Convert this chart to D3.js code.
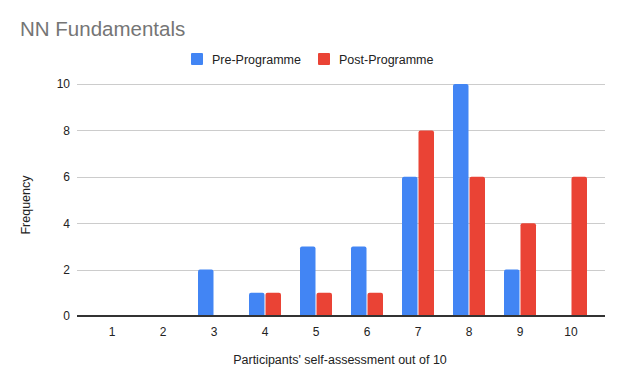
<!DOCTYPE html>
<html>
<head>
<meta charset="utf-8">
<script src="https://cdnjs.cloudflare.com/ajax/libs/d3/7.8.5/d3.min.js"></script>
<style>
  body { margin: 0; background: #fff; font-family: "Liberation Sans", Arial, sans-serif; }
  .title { font-size: 20.5px; fill: #757575; }
  .tick text { font-size: 12px; fill: #222; }
</style>
</head>
<body>
<div id="chart"></div>
<script>
// data
var scores = ["1", "2", "3", "4", "5", "6", "7", "8", "9", "10"];
var preProgramme = [0, 0, 2, 1, 3, 3, 6, 10, 2, 0];
var postProgramme = [0, 0, 0, 1, 1, 1, 8, 6, 4, 6];
var seriesNames = ["Pre-Programme", "Post-Programme"];
var colors = ["#4285f4", "#ea4335"];
var yTicks = [0, 2, 4, 6, 8, 10];

var width = 624, height = 385;
var plot = { left: 77, right: 605, top: 84, bottom: 316 };

var svg = d3.select("#chart").append("svg")
  .attr("width", width)
  .attr("height", height);

// title
svg.append("text")
  .attr("class", "title")
  .attr("x", 20)
  .attr("y", 36)
  .text("NN Fundamentals");

// scales
var x = d3.scaleBand()
  .domain(scores)
  .range([86.5, 596.5]);

var inner = d3.scaleBand()
  .domain(seriesNames)
  .range([x.bandwidth() / 2 - 16, x.bandwidth() / 2 + 16])
  .paddingInner(0.06);

var y = d3.scaleLinear()
  .domain([0, 10])
  .range([plot.bottom, plot.top]);

// gridlines
svg.append("g")
  .selectAll("line")
  .data(yTicks.filter(function(d) { return d > 0; }))
  .join("line")
  .attr("x1", plot.left)
  .attr("x2", plot.right)
  .attr("y1", function(d) { return Math.round(y(d)) + 0.5; })
  .attr("y2", function(d) { return Math.round(y(d)) + 0.5; })
  .attr("stroke", "#cccccc")
  .attr("stroke-width", 1);

// y axis labels
var yAxis = svg.append("g")
  .attr("transform", "translate(" + plot.left + ",0)")
  .call(d3.axisLeft(y).tickValues(yTicks).tickSize(0).tickPadding(7));
yAxis.select(".domain").remove();

// bars
var rows = scores.map(function(s, i) {
  return { score: s, values: [preProgramme[i], postProgramme[i]] };
});

var groups = svg.append("g")
  .selectAll("g")
  .data(rows)
  .join("g")
  .attr("transform", function(d) { return "translate(" + x(d.score) + ",0)"; });

groups.selectAll("path")
  .data(function(d) {
    return d.values.map(function(v, j) { return { name: seriesNames[j], value: v, color: colors[j] }; });
  })
  .join("path")
  .filter(function(d) { return d.value > 0; })
  .attr("fill", function(d) { return d.color; })
  .attr("d", function(d) {
    var x0 = inner(d.name), w = inner.bandwidth();
    var top = y(d.value), bot = y(0), r = 2;
    return "M" + x0 + "," + bot +
      "V" + (top + r) +
      "Q" + x0 + "," + top + " " + (x0 + r) + "," + top +
      "H" + (x0 + w - r) +
      "Q" + (x0 + w) + "," + top + " " + (x0 + w) + "," + (top + r) +
      "V" + bot + "Z";
  });

// x axis
var xAxis = svg.append("g")
  .attr("transform", "translate(0," + plot.bottom + ")")
  .call(d3.axisBottom(x).tickSize(0).tickPadding(11));
xAxis.select(".domain").remove();

svg.append("line")
  .attr("x1", plot.left)
  .attr("x2", plot.right)
  .attr("y1", plot.bottom)
  .attr("y2", plot.bottom)
  .attr("stroke", "#333")
  .attr("stroke-width", 2);

// axis titles
svg.append("text")
  .attr("x", 340)
  .attr("y", 364)
  .attr("text-anchor", "middle")
  .style("font-size", "12.5px")
  .style("fill", "#222")
  .text("Participants' self-assessment out of 10");

svg.append("text")
  .attr("transform", "translate(29.5,205) rotate(-90)")
  .attr("text-anchor", "middle")
  .style("font-size", "12.5px")
  .style("fill", "#222")
  .text("Frequency");

// legend
var legendX = [191, 318];
var legend = svg.append("g")
  .selectAll("g")
  .data(seriesNames)
  .join("g")
  .attr("transform", function(d, i) { return "translate(" + legendX[i] + ",53)"; });

legend.append("rect")
  .attr("width", 12)
  .attr("height", 12)
  .attr("rx", 1)
  .attr("fill", function(d, i) { return colors[i]; });

legend.append("text")
  .attr("x", 21)
  .attr("y", 10.5)
  .style("font-size", "12.5px")
  .style("fill", "#222")
  .text(function(d) { return d; });
</script>
</body>
</html>
